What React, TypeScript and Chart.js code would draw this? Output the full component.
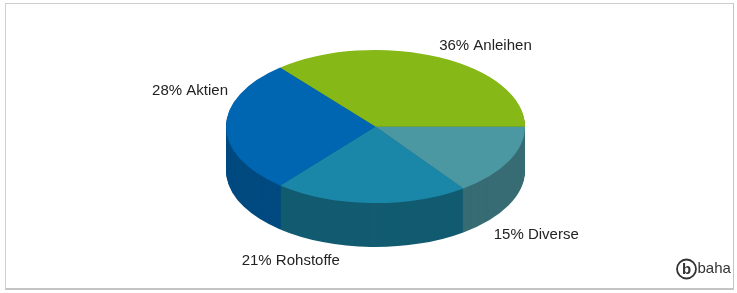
import React, { useEffect, useRef } from 'react';
import { Chart, registerables } from 'chart.js';

Chart.register(...registerables);

// ---- data (drawn clockwise starting at 3 o'clock) ----
const categories = ['Diverse', 'Rohstoffe', 'Aktien', 'Anleihen'];
const shares = [15, 21, 28, 36];
const topColors = ['#4c98a2', '#1b87a8', '#0066b2', '#86b817'];
const sideColors = ['#386c74', '#125b70', '#004a80', '#5e8510'];

// ---- layout / style ----
const W = 737;
const H = 293;
const RADIUS = 149.5;
const SQUASH = 76.5 / 149.5;
const DEPTH = 44;
const FONT = "'Liberation Sans', Arial, sans-serif";
// label placement relative to the slice's rim point at its mid angle
const labelNudge: { dx: number; dy: number; align: CanvasTextAlign }[] = [
  { dx: -15, dy: 30, align: 'left' },
  { dx: -31, dy: 14, align: 'right' },
  { dx: 2, dy: -36, align: 'right' },
  { dx: 0, dy: -11, align: 'left' },
];

const pie3d = {
  id: 'pie3d',
  beforeDatasetsDraw(chart: any) {
    const ctx = chart.ctx as CanvasRenderingContext2D;
    const arcs = chart.getDatasetMeta(0).data;
    if (!arcs.length) return;
    const { x: cx, y: cy } = arcs[0].getProps(['x', 'y'], true);
    ctx.save();
    ctx.translate(cx, cy);
    ctx.scale(1, SQUASH);
    ctx.translate(-cx, -cy);
    for (let d = DEPTH; d >= 1; d -= 1) {
      const off = d / SQUASH;
      arcs.forEach((arc: any, i: number) => {
        const p = arc.getProps(['x', 'y', 'startAngle', 'endAngle', 'outerRadius'], true);
        ctx.beginPath();
        ctx.moveTo(p.x, p.y + off);
        ctx.arc(p.x, p.y + off, p.outerRadius, p.startAngle, p.endAngle);
        ctx.closePath();
        ctx.fillStyle = sideColors[i];
        ctx.fill();
      });
    }
  },
  afterDatasetsDraw(chart: any) {
    chart.ctx.restore();
  },
  afterDraw(chart: any) {
    const ctx = chart.ctx as CanvasRenderingContext2D;
    const arcs = chart.getDatasetMeta(0).data;
    ctx.save();
    ctx.font = `15px ${FONT}`;
    ctx.fillStyle = '#222';
    ctx.textBaseline = 'middle';
    arcs.forEach((arc: any, i: number) => {
      const p = arc.getProps(['x', 'y', 'startAngle', 'endAngle', 'outerRadius'], true);
      const mid = (p.startAngle + p.endAngle) / 2;
      const s = Math.sin(mid);
      const ax = p.x + p.outerRadius * Math.cos(mid);
      const ay = p.y + p.outerRadius * SQUASH * s + (s > 0.05 ? DEPTH : 0);
      const n = labelNudge[i];
      ctx.textAlign = n.align;
      ctx.fillText(`${shares[i]}% ${categories[i]}`, ax + n.dx, ay + n.dy);
    });
    // baha logo
    const lx = 686.5;
    const ly = 269;
    ctx.strokeStyle = '#333';
    ctx.lineWidth = 1.8;
    ctx.beginPath();
    ctx.arc(lx, ly, 9.5, 0, Math.PI * 2);
    ctx.stroke();
    ctx.fillStyle = '#333';
    ctx.textAlign = 'center';
    ctx.font = `bold 15px ${FONT}`;
    ctx.fillText('b', lx, ly + 0.5);
    ctx.textAlign = 'left';
    ctx.font = `15px ${FONT}`;
    ctx.fillText('baha', 697.5, ly);
    ctx.restore();
  },
};

export default function App() {
  const ref = useRef<HTMLCanvasElement | null>(null);
  useEffect(() => {
    if (!ref.current) return;
    const chart = new Chart(ref.current, {
      type: 'pie',
      data: {
        labels: categories,
        datasets: [
          {
            data: shares,
            backgroundColor: topColors,
            borderWidth: 0,
            radius: RADIUS,
            clip: false,
          } as any,
        ],
      },
      options: {
        responsive: false,
        animation: false,
        events: [],
        rotation: 90,
        layout: { padding: { left: 14, right: 0, top: 0, bottom: 40 } },
        plugins: {
          legend: { display: false },
          tooltip: { enabled: false },
          title: { display: false },
        },
      },
      plugins: [pie3d],
    });
    return () => chart.destroy();
  }, []);

  return (
    <div style={{ position: 'absolute', left: 0, top: 0, width: W, height: H, background: '#fff' }}>
      <div
        style={{
          position: 'absolute',
          left: 5,
          top: 3,
          width: 727,
          height: 284,
          borderTop: '1px solid #cfcfcf',
          borderLeft: '1px solid #cfcfcf',
          borderRight: '1px solid #c4c4c4',
          borderBottom: '2px solid #c4c4c4',
        }}
      />
      <canvas ref={ref} width={W} height={H} style={{ position: 'absolute', left: 0, top: 0, width: W, height: H }} />
    </div>
  );
}
